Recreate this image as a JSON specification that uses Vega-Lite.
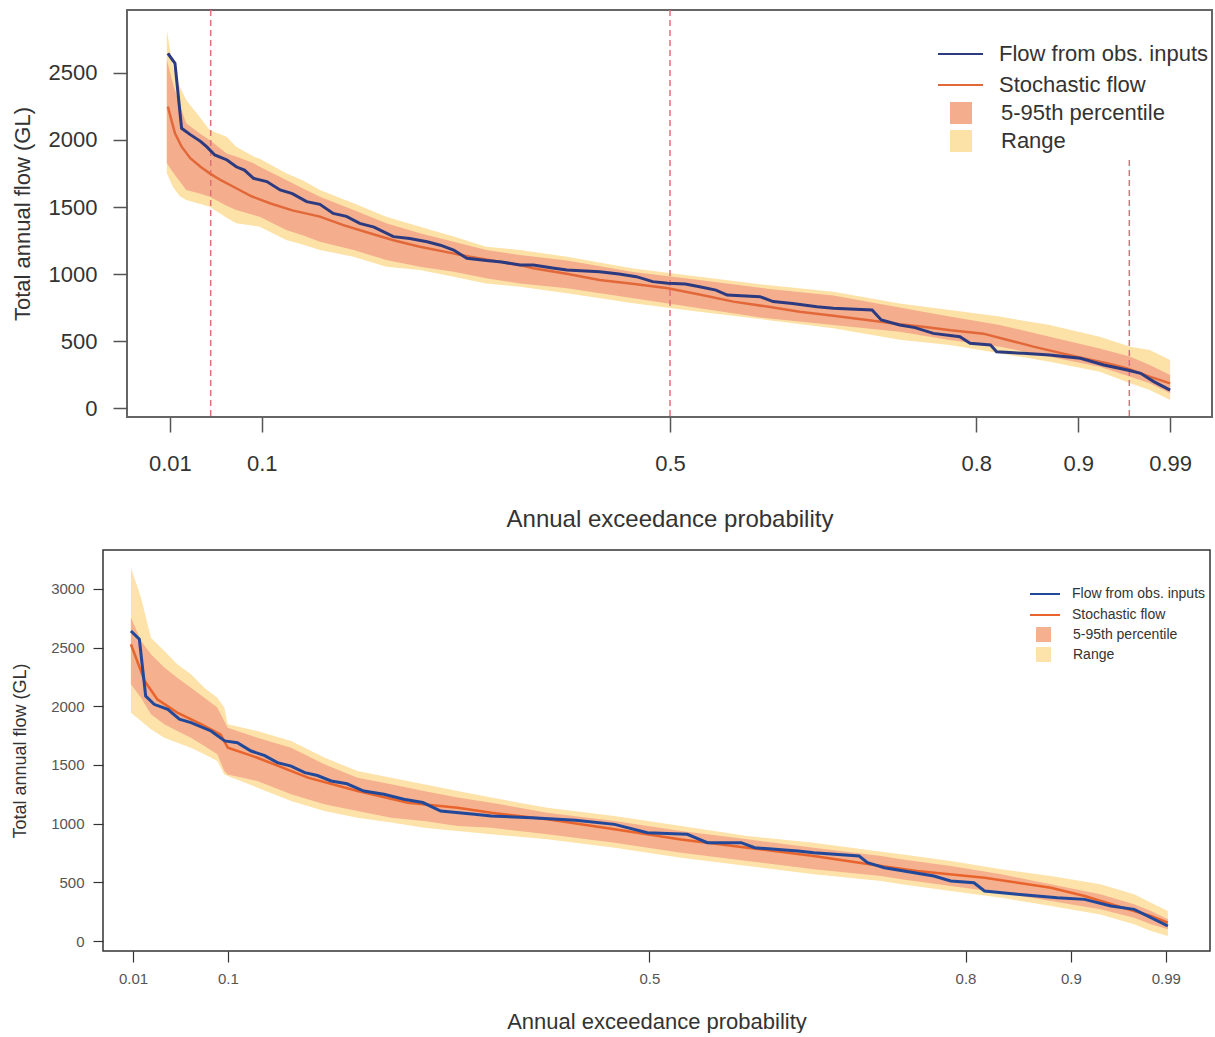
{
  "$schema": "https://vega.github.io/schema/vega-lite/v6.json",
  "padding": {"left": 9, "top": 8, "right": 0, "bottom": 0},
  "background": "white",
  "config": {
    "font": "Liberation Sans",
    "axis": {"grid": false, "domain": false, "labelFlush": false, "labelOverlap": false, "labelBound": false, "titleFontWeight": "normal"},
    "legend": {"padding": 0, "titlePadding": 0, "labelLimit": 400}
  },
  "spacing": 17,
  "resolve": {
    "scale": {"x": "independent", "y": "independent", "fill": "independent", "stroke": "independent"},
    "legend": {"fill": "independent", "stroke": "independent"}
  },
  "datasets": {
    "top_obs": [
      {"p": 0.008, "v": 2647}, {"p": 0.015, "v": 2572}, {"p": 0.0215, "v": 2087}, {"p": 0.03, "v": 2040},
      {"p": 0.04, "v": 1990}, {"p": 0.046, "v": 1950}, {"p": 0.054, "v": 1888}, {"p": 0.066, "v": 1851},
      {"p": 0.075, "v": 1800}, {"p": 0.083, "v": 1775}, {"p": 0.092, "v": 1714}, {"p": 0.105, "v": 1690},
      {"p": 0.118, "v": 1627}, {"p": 0.13, "v": 1600}, {"p": 0.144, "v": 1540}, {"p": 0.157, "v": 1520},
      {"p": 0.17, "v": 1452}, {"p": 0.183, "v": 1430}, {"p": 0.196, "v": 1378}, {"p": 0.21, "v": 1350},
      {"p": 0.229, "v": 1279}, {"p": 0.245, "v": 1265}, {"p": 0.262, "v": 1241}, {"p": 0.275, "v": 1215},
      {"p": 0.288, "v": 1179}, {"p": 0.301, "v": 1117}, {"p": 0.32, "v": 1100}, {"p": 0.335, "v": 1090},
      {"p": 0.353, "v": 1067}, {"p": 0.366, "v": 1067}, {"p": 0.385, "v": 1045}, {"p": 0.399, "v": 1030},
      {"p": 0.431, "v": 1017}, {"p": 0.45, "v": 1000}, {"p": 0.467, "v": 980}, {"p": 0.483, "v": 943},
      {"p": 0.498, "v": 931}, {"p": 0.515, "v": 925}, {"p": 0.529, "v": 905}, {"p": 0.545, "v": 880},
      {"p": 0.556, "v": 843}, {"p": 0.588, "v": 831}, {"p": 0.601, "v": 794}, {"p": 0.62, "v": 780},
      {"p": 0.644, "v": 756}, {"p": 0.66, "v": 744}, {"p": 0.698, "v": 731}, {"p": 0.707, "v": 657},
      {"p": 0.725, "v": 619}, {"p": 0.74, "v": 600}, {"p": 0.758, "v": 557}, {"p": 0.784, "v": 532},
      {"p": 0.794, "v": 483}, {"p": 0.814, "v": 470}, {"p": 0.82, "v": 420}, {"p": 0.846, "v": 408},
      {"p": 0.872, "v": 396}, {"p": 0.902, "v": 371}, {"p": 0.925, "v": 321}, {"p": 0.948, "v": 284},
      {"p": 0.961, "v": 259}, {"p": 0.974, "v": 197}, {"p": 0.99, "v": 134}
    ],
    "top_stoch": [
      {"p": 0.008, "v": 2249}, {"p": 0.015, "v": 2050}, {"p": 0.0215, "v": 1950}, {"p": 0.03, "v": 1864},
      {"p": 0.04, "v": 1800}, {"p": 0.049, "v": 1751}, {"p": 0.06, "v": 1700}, {"p": 0.075, "v": 1640},
      {"p": 0.09, "v": 1580}, {"p": 0.108, "v": 1528}, {"p": 0.13, "v": 1475}, {"p": 0.157, "v": 1428},
      {"p": 0.18, "v": 1365}, {"p": 0.206, "v": 1304}, {"p": 0.23, "v": 1250}, {"p": 0.255, "v": 1204},
      {"p": 0.28, "v": 1165}, {"p": 0.304, "v": 1129}, {"p": 0.33, "v": 1095}, {"p": 0.353, "v": 1067},
      {"p": 0.366, "v": 1043}, {"p": 0.4, "v": 1000}, {"p": 0.431, "v": 955}, {"p": 0.465, "v": 925},
      {"p": 0.498, "v": 893}, {"p": 0.53, "v": 845}, {"p": 0.562, "v": 794}, {"p": 0.595, "v": 757},
      {"p": 0.627, "v": 719}, {"p": 0.66, "v": 688}, {"p": 0.693, "v": 657}, {"p": 0.725, "v": 625},
      {"p": 0.75, "v": 605}, {"p": 0.775, "v": 580}, {"p": 0.807, "v": 555}, {"p": 0.83, "v": 510},
      {"p": 0.856, "v": 458}, {"p": 0.88, "v": 415}, {"p": 0.905, "v": 371}, {"p": 0.928, "v": 335},
      {"p": 0.948, "v": 296}, {"p": 0.97, "v": 234}, {"p": 0.99, "v": 184}
    ],
    "top_band": [
      {"p": 0.007, "lo": 1751, "p5": 1826, "p95": 2600, "hi": 2821},
      {"p": 0.013, "lo": 1650, "p5": 1760, "p95": 2420, "hi": 2547},
      {"p": 0.0198, "lo": 1580, "p5": 1690, "p95": 2260, "hi": 2398},
      {"p": 0.026, "lo": 1552, "p5": 1627, "p95": 2125, "hi": 2299},
      {"p": 0.039, "lo": 1525, "p5": 1600, "p95": 2050, "hi": 2174},
      {"p": 0.049, "lo": 1502, "p5": 1577, "p95": 2000, "hi": 2075},
      {"p": 0.0656, "lo": 1420, "p5": 1510, "p95": 1900, "hi": 2025},
      {"p": 0.075, "lo": 1378, "p5": 1478, "p95": 1876, "hi": 1950},
      {"p": 0.092, "lo": 1360, "p5": 1440, "p95": 1826, "hi": 1876},
      {"p": 0.098, "lo": 1353, "p5": 1428, "p95": 1800, "hi": 1860},
      {"p": 0.124, "lo": 1254, "p5": 1328, "p95": 1702, "hi": 1751},
      {"p": 0.14, "lo": 1220, "p5": 1290, "p95": 1640, "hi": 1700},
      {"p": 0.157, "lo": 1179, "p5": 1241, "p95": 1577, "hi": 1627},
      {"p": 0.19, "lo": 1129, "p5": 1179, "p95": 1478, "hi": 1528},
      {"p": 0.222, "lo": 1055, "p5": 1105, "p95": 1378, "hi": 1428},
      {"p": 0.255, "lo": 1030, "p5": 1055, "p95": 1304, "hi": 1353},
      {"p": 0.288, "lo": 980, "p5": 1017, "p95": 1241, "hi": 1279},
      {"p": 0.32, "lo": 930, "p5": 968, "p95": 1179, "hi": 1204},
      {"p": 0.353, "lo": 905, "p5": 930, "p95": 1142, "hi": 1179},
      {"p": 0.399, "lo": 856, "p5": 893, "p95": 1100, "hi": 1129},
      {"p": 0.464, "lo": 781, "p5": 819, "p95": 1015, "hi": 1042},
      {"p": 0.529, "lo": 719, "p5": 744, "p95": 955, "hi": 980},
      {"p": 0.595, "lo": 657, "p5": 669, "p95": 890, "hi": 918},
      {"p": 0.66, "lo": 595, "p5": 619, "p95": 840, "hi": 868},
      {"p": 0.725, "lo": 510, "p5": 570, "p95": 750, "hi": 780},
      {"p": 0.774, "lo": 470, "p5": 507, "p95": 682, "hi": 731},
      {"p": 0.823, "lo": 408, "p5": 458, "p95": 619, "hi": 682},
      {"p": 0.872, "lo": 346, "p5": 383, "p95": 532, "hi": 619},
      {"p": 0.921, "lo": 271, "p5": 308, "p95": 445, "hi": 532},
      {"p": 0.951, "lo": 184, "p5": 234, "p95": 383, "hi": 458},
      {"p": 0.97, "lo": 134, "p5": 184, "p95": 321, "hi": 433},
      {"p": 0.99, "lo": 60, "p5": 110, "p95": 246, "hi": 358}
    ],
    "top_rules_full": [{"p": 0.05}, {"p": 0.5}],
    "top_rules_part": [{"p": 0.95, "top": 1850}],
    "bot_obs": [
      {"p": 0.008, "v": 2642}, {"p": 0.016, "v": 2571}, {"p": 0.022, "v": 2088}, {"p": 0.03, "v": 2017},
      {"p": 0.043, "v": 1975}, {"p": 0.054, "v": 1890}, {"p": 0.065, "v": 1861}, {"p": 0.084, "v": 1790},
      {"p": 0.097, "v": 1705}, {"p": 0.109, "v": 1690}, {"p": 0.122, "v": 1619}, {"p": 0.135, "v": 1580},
      {"p": 0.147, "v": 1520}, {"p": 0.16, "v": 1490}, {"p": 0.173, "v": 1435}, {"p": 0.185, "v": 1410},
      {"p": 0.198, "v": 1364}, {"p": 0.213, "v": 1340}, {"p": 0.229, "v": 1278}, {"p": 0.248, "v": 1250},
      {"p": 0.267, "v": 1208}, {"p": 0.285, "v": 1180}, {"p": 0.302, "v": 1108}, {"p": 0.334, "v": 1080},
      {"p": 0.35, "v": 1065}, {"p": 0.388, "v": 1051}, {"p": 0.43, "v": 1030}, {"p": 0.467, "v": 994},
      {"p": 0.498, "v": 923}, {"p": 0.536, "v": 909}, {"p": 0.555, "v": 838}, {"p": 0.587, "v": 838},
      {"p": 0.6, "v": 795}, {"p": 0.641, "v": 767}, {"p": 0.656, "v": 753}, {"p": 0.699, "v": 724},
      {"p": 0.707, "v": 667}, {"p": 0.723, "v": 625}, {"p": 0.77, "v": 554}, {"p": 0.786, "v": 511},
      {"p": 0.808, "v": 497}, {"p": 0.818, "v": 426}, {"p": 0.849, "v": 398}, {"p": 0.887, "v": 369},
      {"p": 0.913, "v": 355}, {"p": 0.938, "v": 298}, {"p": 0.96, "v": 270}, {"p": 0.976, "v": 199},
      {"p": 0.992, "v": 128}
    ],
    "bot_stoch": [
      {"p": 0.008, "v": 2529}, {"p": 0.021, "v": 2216}, {"p": 0.033, "v": 2060}, {"p": 0.052, "v": 1946},
      {"p": 0.075, "v": 1847}, {"p": 0.093, "v": 1761}, {"p": 0.1, "v": 1648}, {"p": 0.128, "v": 1562},
      {"p": 0.176, "v": 1392}, {"p": 0.223, "v": 1278}, {"p": 0.271, "v": 1179}, {"p": 0.318, "v": 1136},
      {"p": 0.35, "v": 1093}, {"p": 0.403, "v": 1037}, {"p": 0.467, "v": 952}, {"p": 0.53, "v": 866},
      {"p": 0.593, "v": 795}, {"p": 0.656, "v": 724}, {"p": 0.72, "v": 639}, {"p": 0.754, "v": 597},
      {"p": 0.818, "v": 540}, {"p": 0.881, "v": 454}, {"p": 0.913, "v": 384}, {"p": 0.944, "v": 298},
      {"p": 0.976, "v": 213}, {"p": 0.992, "v": 156}
    ],
    "bot_band": [
      {"p": 0.008, "lo": 1946, "p5": 2188, "p95": 2756, "hi": 3182},
      {"p": 0.0176, "lo": 1875, "p5": 2074, "p95": 2557, "hi": 2926},
      {"p": 0.027, "lo": 1804, "p5": 1932, "p95": 2443, "hi": 2585},
      {"p": 0.0397, "lo": 1733, "p5": 1847, "p95": 2330, "hi": 2472},
      {"p": 0.052, "lo": 1690, "p5": 1790, "p95": 2244, "hi": 2358},
      {"p": 0.065, "lo": 1648, "p5": 1733, "p95": 2159, "hi": 2273},
      {"p": 0.0777, "lo": 1591, "p5": 1662, "p95": 2074, "hi": 2159},
      {"p": 0.09, "lo": 1534, "p5": 1591, "p95": 1989, "hi": 2074},
      {"p": 0.0966, "lo": 1420, "p5": 1449, "p95": 1875, "hi": 1989},
      {"p": 0.0998, "lo": 1406, "p5": 1420, "p95": 1818, "hi": 1847},
      {"p": 0.128, "lo": 1307, "p5": 1364, "p95": 1733, "hi": 1790},
      {"p": 0.16, "lo": 1193, "p5": 1250, "p95": 1648, "hi": 1705},
      {"p": 0.1915, "lo": 1108, "p5": 1165, "p95": 1506, "hi": 1563},
      {"p": 0.223, "lo": 1051, "p5": 1108, "p95": 1392, "hi": 1449},
      {"p": 0.255, "lo": 1009, "p5": 1051, "p95": 1335, "hi": 1392},
      {"p": 0.286, "lo": 966, "p5": 1023, "p95": 1278, "hi": 1335},
      {"p": 0.318, "lo": 938, "p5": 980, "p95": 1222, "hi": 1278},
      {"p": 0.35, "lo": 909, "p5": 966, "p95": 1179, "hi": 1222},
      {"p": 0.403, "lo": 867, "p5": 909, "p95": 1094, "hi": 1136},
      {"p": 0.467, "lo": 795, "p5": 838, "p95": 1023, "hi": 1065},
      {"p": 0.53, "lo": 710, "p5": 753, "p95": 938, "hi": 980},
      {"p": 0.593, "lo": 639, "p5": 682, "p95": 867, "hi": 895},
      {"p": 0.656, "lo": 568, "p5": 611, "p95": 795, "hi": 838},
      {"p": 0.72, "lo": 511, "p5": 554, "p95": 724, "hi": 760},
      {"p": 0.739, "lo": 483, "p5": 526, "p95": 696, "hi": 739},
      {"p": 0.786, "lo": 426, "p5": 469, "p95": 639, "hi": 682},
      {"p": 0.834, "lo": 369, "p5": 412, "p95": 568, "hi": 611},
      {"p": 0.881, "lo": 298, "p5": 341, "p95": 483, "hi": 554},
      {"p": 0.928, "lo": 227, "p5": 270, "p95": 398, "hi": 483},
      {"p": 0.96, "lo": 142, "p5": 199, "p95": 313, "hi": 398},
      {"p": 0.976, "lo": 85, "p5": 142, "p95": 256, "hi": 327},
      {"p": 0.992, "lo": 43, "p5": 100, "p95": 185, "hi": 256}
    ]
  },
  "vconcat": [
    {
      "spacing": 0,
      "resolve": {
        "scale": {"x": "independent", "y": "independent", "fill": "independent", "stroke": "independent"},
        "legend": {"fill": "independent", "stroke": "independent"}
      },
      "hconcat": [
        {
          "width": 1, "height": 1,
          "view": {"stroke": null},
          "data": {"values": []},
          "mark": "point"
        },
        {
          "width": 1085,
          "height": 407,
          "view": {"stroke": "#666", "strokeWidth": 2},
          "encoding": {
            "x": {
              "field": "p", "type": "quantitative",
              "scale": {"domain": [-0.032, 1.031], "nice": false, "zero": false},
              "axis": {
                "title": "Annual exceedance probability",
                "values": [0.01, 0.1, 0.5, 0.8, 0.9, 0.99], "labelExpr": "'' + datum.value",
                "tickSize": 15, "tickWidth": 1.5, "tickColor": "#555",
                "labelFontSize": 22, "labelColor": "#333", "labelPadding": 21,
                "titleFontSize": 24, "titleColor": "#333", "titlePadding": 33
              }
            }
          },
          "layer": [
            {
              "data": {"name": "top_band"},
              "mark": {"type": "area", "opacity": 1},
              "encoding": {
                "y": {
                  "field": "hi", "type": "quantitative",
                  "scale": {"domain": [-67, 2970], "nice": false, "zero": false},
                  "axis": {
                    "title": "Total annual flow (GL)",
                    "values": [0, 500, 1000, 1500, 2000, 2500], "format": "d",
                    "tickSize": 14, "tickWidth": 1.5, "tickColor": "#555",
                    "labelFontSize": 22, "labelColor": "#333", "labelPadding": 16,
                    "titleFontSize": 22, "titleColor": "#333", "titlePadding": 14
                  }
                },
                "y2": {"field": "lo"},
                "fill": {
                  "datum": "Range", "type": "nominal",
                  "scale": {"domain": ["5-95th percentile", "Range"], "range": ["#f4ae8e", "#fce2a6"]},
                  "legend": {
                    "title": null, "orient": "none", "legendX": 823, "legendY": 92,
                    "symbolType": "square", "symbolSize": 484, "symbolStrokeWidth": 0,
                    "clipHeight": 22, "rowPadding": 6, "labelOffset": 29,
                    "labelFontSize": 22, "labelColor": "#333"
                  }
                }
              }
            },
            {
              "data": {"name": "top_band"},
              "mark": {"type": "area", "opacity": 1},
              "encoding": {
                "y": {"field": "p95", "type": "quantitative"},
                "y2": {"field": "p5"},
                "fill": {"datum": "5-95th percentile", "type": "nominal"}
              }
            },
            {
              "data": {"name": "top_rules_full"},
              "mark": {"type": "rule", "color": "#e2707c", "strokeDash": [6, 4], "strokeWidth": 1.5},
              "encoding": {}
            },
            {
              "data": {"name": "top_rules_part"},
              "mark": {"type": "rule", "color": "#d8707c", "strokeDash": [6, 4], "strokeWidth": 1.5},
              "encoding": {
                "y": {"field": "top", "type": "quantitative"},
                "y2": {"datum": -67}
              }
            },
            {
              "data": {"name": "top_stoch"},
              "mark": {"type": "line", "strokeWidth": 2.5},
              "encoding": {
                "y": {"field": "v", "type": "quantitative"},
                "stroke": {
                  "datum": "Stochastic flow", "type": "nominal",
                  "scale": {"domain": ["Flow from obs. inputs", "Stochastic flow"], "range": ["#2c3b80", "#e2683a"]},
                  "legend": {
                    "title": null, "orient": "none", "legendX": 810, "legendY": 33,
                    "symbolType": "stroke", "symbolSize": 2025, "symbolStrokeWidth": 2,
                    "clipHeight": 22, "rowPadding": 9, "labelOffset": 15,
                    "labelFontSize": 22, "labelColor": "#333"
                  }
                }
              }
            },
            {
              "data": {"name": "top_obs"},
              "mark": {"type": "line", "strokeWidth": 3},
              "encoding": {
                "y": {"field": "v", "type": "quantitative"},
                "stroke": {"datum": "Flow from obs. inputs", "type": "nominal"}
              }
            }
          ]
        }
      ]
    },
    {
      "spacing": 0,
      "resolve": {
        "scale": {"x": "independent", "y": "independent", "fill": "independent", "stroke": "independent"},
        "legend": {"fill": "independent", "stroke": "independent"}
      },
      "hconcat": [
        {
          "width": 1, "height": 1,
          "view": {"stroke": null},
          "data": {"values": []},
          "mark": "point"
        },
        {
          "width": 1107,
          "height": 401,
          "view": {"stroke": "#333", "strokeWidth": 1.5},
          "encoding": {
            "x": {
              "field": "p", "type": "quantitative",
              "scale": {"domain": [-0.0185, 1.032], "nice": false, "zero": false},
              "axis": {
                "title": "Annual exceedance probability",
                "values": [0.01, 0.1, 0.5, 0.8, 0.9, 0.99], "labelExpr": "'' + datum.value",
                "tickSize": 11, "tickWidth": 1.2, "tickColor": "#333",
                "labelFontSize": 15, "labelColor": "#555", "labelPadding": 9,
                "titleFontSize": 22, "titleColor": "#333", "titlePadding": 25
              }
            }
          },
          "layer": [
            {
              "data": {"name": "bot_band"},
              "mark": {"type": "area", "opacity": 1},
              "encoding": {
                "y": {
                  "field": "hi", "type": "quantitative",
                  "scale": {"domain": [-85, 3332], "nice": false, "zero": false},
                  "axis": {
                    "title": "Total annual flow (GL)",
                    "values": [0, 500, 1000, 1500, 2000, 2500, 3000], "format": "d",
                    "tickSize": 10, "tickWidth": 1.2, "tickColor": "#333",
                    "labelFontSize": 15, "labelColor": "#555", "labelPadding": 9,
                    "titleFontSize": 18, "titleColor": "#333", "titlePadding": 21
                  }
                },
                "y2": {"field": "lo"},
                "fill": {
                  "datum": "Range", "type": "nominal",
                  "scale": {"domain": ["5-95th percentile", "Range"], "range": ["#f5b08f", "#fde3a9"]},
                  "legend": {
                    "title": null, "orient": "none", "legendX": 933, "legendY": 77,
                    "symbolType": "square", "symbolSize": 225, "symbolStrokeWidth": 0,
                    "clipHeight": 15, "rowPadding": 5, "labelOffset": 22,
                    "labelFontSize": 14, "labelColor": "#333"
                  }
                }
              }
            },
            {
              "data": {"name": "bot_band"},
              "mark": {"type": "area", "opacity": 1},
              "encoding": {
                "y": {"field": "p95", "type": "quantitative"},
                "y2": {"field": "p5"},
                "fill": {"datum": "5-95th percentile", "type": "nominal"}
              }
            },
            {
              "data": {"name": "bot_stoch"},
              "mark": {"type": "line", "strokeWidth": 2.5},
              "encoding": {
                "y": {"field": "v", "type": "quantitative"},
                "stroke": {
                  "datum": "Stochastic flow", "type": "nominal",
                  "scale": {"domain": ["Flow from obs. inputs", "Stochastic flow"], "range": ["#22489a", "#e8642c"]},
                  "legend": {
                    "title": null, "orient": "none", "legendX": 926, "legendY": 37,
                    "symbolType": "stroke", "symbolSize": 900, "symbolStrokeWidth": 2,
                    "clipHeight": 14, "rowPadding": 7, "labelOffset": 11,
                    "labelFontSize": 14, "labelColor": "#333"
                  }
                }
              }
            },
            {
              "data": {"name": "bot_obs"},
              "mark": {"type": "line", "strokeWidth": 3},
              "encoding": {
                "y": {"field": "v", "type": "quantitative"},
                "stroke": {"datum": "Flow from obs. inputs", "type": "nominal"}
              }
            }
          ]
        }
      ]
    }
  ]
}
